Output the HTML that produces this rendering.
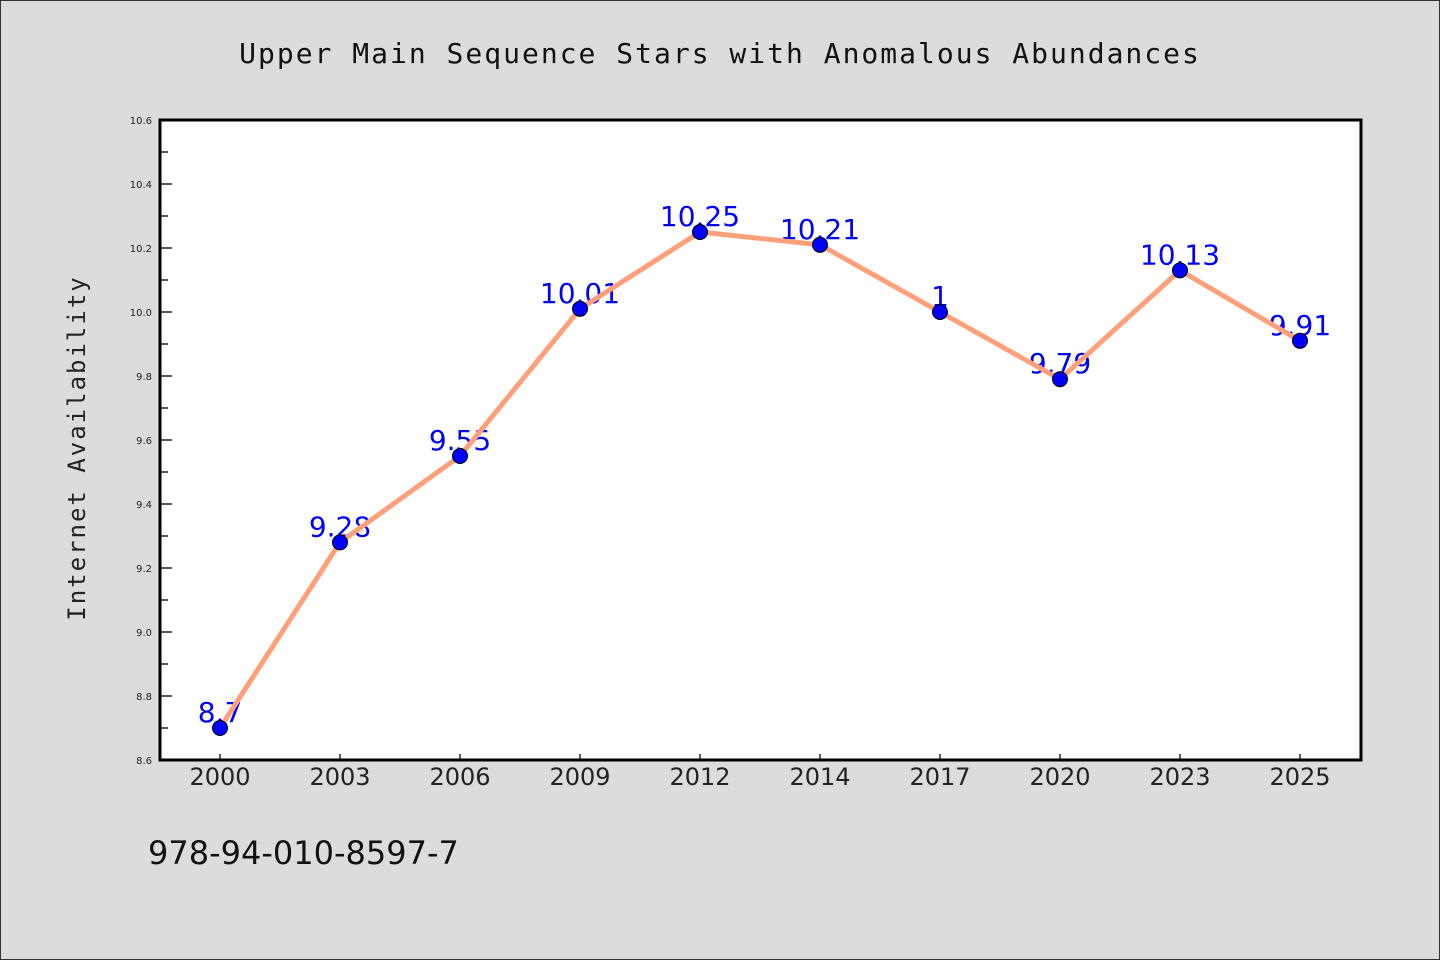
<!DOCTYPE html>
<html><head><meta charset="utf-8"><style>
html,body{margin:0;padding:0;background:#dcdcdc;}
svg{display:block;}
</style></head><body>
<svg width="1440" height="960" viewBox="0 0 1440 960" xmlns="http://www.w3.org/2000/svg">
<rect x="0.5" y="0.5" width="1439" height="959" fill="#dcdcdc" stroke="#333" stroke-width="1"/>
<text x="720" y="63" text-anchor="middle" font-family="'WenQuanYi Zen Hei','DejaVu Sans Mono',monospace" font-size="28" letter-spacing="2" fill="#111">Upper Main Sequence Stars with Anomalous Abundances</text>
<rect x="160" y="120" width="1201" height="640" fill="#fff"/>
<g id="ticks"></g>
<g id="labels"></g>
<g id="series"></g>
<rect x="160" y="120" width="1201" height="640" fill="none" stroke="#000" stroke-width="3"/>
<text transform="translate(85,448) rotate(-90)" text-anchor="middle" font-family="'WenQuanYi Zen Hei','DejaVu Sans Mono',monospace" font-size="24" letter-spacing="2" fill="#222">Internet Availability</text>
<text x="148" y="864" font-family="'WenQuanYi Zen Hei','DejaVu Sans',sans-serif" font-size="32" fill="#111">978-94-010-8597-7</text>
</svg>
<script>
const categories = ["2000","2003","2006","2009","2012","2014","2017","2020","2023","2025"];
const values = [8.7, 9.28, 9.55, 10.01, 10.25, 10.21, 10.0, 9.79, 10.13, 9.91];
const valueLabels = ["8.7","9.28","9.55","10.01","10.25","10.21","1","9.79","10.13","9.91"];
const yTicks = [8.6, 8.8, 9.0, 9.2, 9.4, 9.6, 9.8, 10.0, 10.2, 10.4, 10.6];
const yMin = 8.6, yMax = 10.6;
const NS = "http://www.w3.org/2000/svg";
const L = 160, R = 1361, T = 120, B = 760;
function xPos(i){ return L + 60 + i * (R - L - 121) / (categories.length - 1); }
function yPos(v){ return B - (v - yMin) / (yMax - yMin) * (B - T); }
function mk(tag, attrs, parent){ const e = document.createElementNS(NS, tag); for (const k in attrs) e.setAttribute(k, attrs[k]); parent.appendChild(e); return e; }
const tg = document.getElementById('ticks');
yTicks.forEach((t, i) => {
  const y = yPos(t);
  const ln = mk('line', {x1: L, x2: L + 12, y1: y, y2: y, stroke: '#000', 'stroke-width': 1.3}, tg);
  
  
  const tx = mk('text', {x: L - 8, y: y + 4, 'text-anchor': 'end', 'font-family': 'DejaVu Sans, sans-serif', 'font-size': 10, fill: '#222'}, tg);
  tx.textContent = t.toFixed(1);
  
  
  if (i < yTicks.length - 1) {
    const ym = yPos(t + 0.1);
    const mn = mk('line', {x1: L, x2: L + 8, y1: ym, y2: ym, stroke: '#000', 'stroke-width': 1.3}, tg);
    
    
  }
});
categories.forEach((c, i) => {
  const x = xPos(i);
  const ln = mk('line', {x1: x, x2: x, y1: B, y2: B - 6, stroke: '#000', 'stroke-width': 1.3}, tg);
  
  
  const tx = mk('text', {x: x, y: B + 25, 'text-anchor': 'middle', 'font-family': "'WenQuanYi Zen Hei','DejaVu Sans',sans-serif", 'font-size': 24, fill: '#222'}, tg);
  tx.textContent = c;
  
  
});
const lg = document.getElementById('labels');
values.forEach((v, i) => {
  const tx = mk('text', {x: xPos(i), y: yPos(v) - 6, 'text-anchor': 'middle', 'font-family': "'WenQuanYi Zen Hei','DejaVu Sans',sans-serif", 'font-size': 28, fill: '#0000ff'}, lg);
  tx.textContent = valueLabels[i];
  
  
});
const sg = document.getElementById('series');
const pts = values.map((v, i) => xPos(i) + ',' + yPos(v)).join(' ');
const pl = mk('polyline', {points: pts, fill: 'none', stroke: '#ffa07a', 'stroke-width': 5, 'stroke-linejoin': 'round'}, sg);


values.forEach((v, i) => {
  const c = mk('circle', {cx: xPos(i), cy: yPos(v), r: 7.5, fill: '#0000ff', stroke: '#000', 'stroke-width': 1}, sg);
  
  
});
</script>
</body></html>
